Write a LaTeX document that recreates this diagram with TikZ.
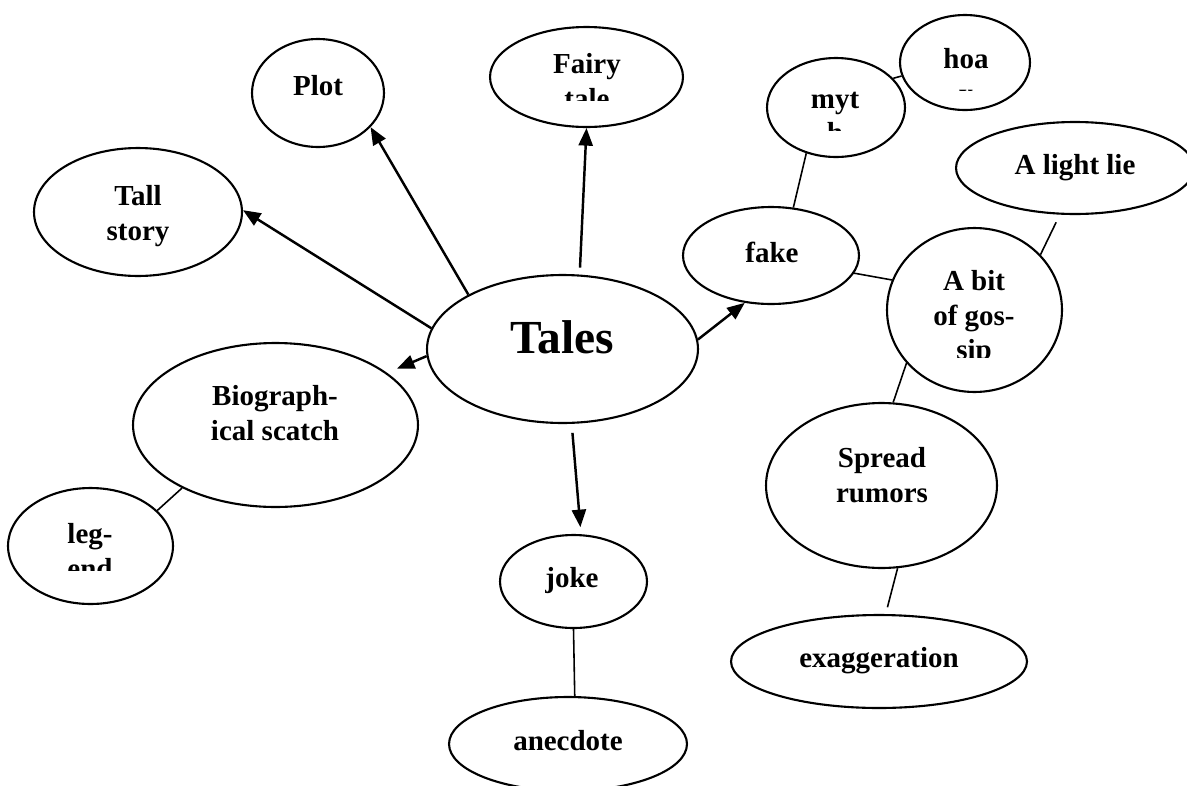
\documentclass[tikz,border=0pt]{standalone}
\usepackage{fontspec}
\setmainfont{Liberation Serif}
\usetikzlibrary{shapes.geometric,arrows.meta}

\begin{document}
\begin{tikzpicture}[x=0.02cm,y=-0.02cm,
    bub/.style={ellipse, draw, line width=1.2pt, inner sep=0pt},
    lbl/.style={font=\fontsize{16.5}{19.5}\selectfont\bfseries, inner sep=0pt, align=center},
    arr/.style={-{Triangle[length=10pt,width=8pt]}, line width=1.4pt},
    lnk/.style={line width=0.9pt}]

\useasboundingbox (0,0) rectangle (1187,785);

% bubbles
\node[bub, minimum width=5.42cm, minimum height=2.96cm] (tales)  at (562.5,349) {};
\node[bub, minimum width=2.64cm, minimum height=2.16cm] (plot)   at (318,93) {};
\node[bub, minimum width=3.86cm, minimum height=2.0cm]  (fairy)  at (586.5,77) {};
\node[bub, minimum width=2.76cm, minimum height=1.98cm] (myth)   at (836,107.5) {};
\node[bub, minimum width=2.6cm,  minimum height=1.9cm]  (hoax)   at (965,62.5) {};
\node[bub, minimum width=4.76cm, minimum height=1.84cm] (lie)    at (1075,168) {};
\node[bub, minimum width=4.16cm, minimum height=2.56cm] (tall)   at (138,212) {};
\node[bub, minimum width=3.52cm, minimum height=1.94cm] (fake)   at (771,255.5) {};
\node[bub, minimum width=3.5cm,  minimum height=3.28cm] (gossip) at (974.5,310) {};
\node[bub, minimum width=5.7cm,  minimum height=3.28cm] (bio)    at (275.5,425) {};
\node[bub, minimum width=3.3cm,  minimum height=2.32cm] (legend) at (90.5,546) {};
\node[bub, minimum width=4.62cm, minimum height=3.3cm]  (spread) at (881.5,485.5) {};
\node[bub, minimum width=5.92cm, minimum height=1.86cm] (exag)   at (879,661.5) {};
\node[bub, minimum width=2.94cm, minimum height=1.86cm] (joke)   at (573.5,581.5) {};
\node[bub, minimum width=4.76cm, minimum height=1.88cm] (anec)   at (568,744) {};

% texts
\node[lbl, font=\fontsize{27}{30}\selectfont\bfseries, anchor=base] (t-tales) at (562.5,353) {Tales};
\node[lbl, anchor=base] (t-plot) at (318,95) {Plot};
\node[lbl, anchor=base] (t-lie) at (1075,174) {A light lie};
\node[lbl, anchor=base] (t-fake) at (772,262) {fake};
\node[lbl, anchor=base] (t-exag) at (879,667) {exaggeration};
\node[lbl, anchor=base] (t-joke) at (572,587) {joke};
\node[lbl, anchor=base] (t-anec) at (568,750) {anecdote};
\node[lbl, anchor=north] (t-tall) at (138,185.5) {Tall\\story};
\node[lbl, anchor=north] (t-bio) at (275,385.5) {Biograph-\\ical scatch};
\node[lbl, anchor=north] (t-spread) at (882,447.5) {Spread\\rumors};
\begin{scope}
  \clip (480,20) rectangle (700,100);
  \node[lbl, anchor=north] (t-fairy) at (587,53.5) {Fairy\\tale};
\end{scope}
\begin{scope}
  \clip (760,50) rectangle (910,130);
  \node[lbl, anchor=north] (t-myth) at (835,92) {myt\\h};
\end{scope}
\begin{scope}
  \clip (900,10) rectangle (1030,90.5);
  \node[lbl, anchor=north] (t-hoax) at (966,48.5) {hoa\\x};
\end{scope}
\begin{scope}
  \clip (0,480) rectangle (180,570);
  \node[lbl, anchor=north] (t-legend) at (90,523.5) {leg-\\end};
\end{scope}
\begin{scope}
  \clip (880,225) rectangle (1065,357);
  \node[lbl, anchor=north] (t-gossip) at (974,270.5) {A bit\\of gos-\\sip};
\end{scope}

% arrows from the centre
\draw[arr] (tales.150) -- (plot.327);
\draw[arr, shorten <=0.14cm] (tales.77) -- (fairy.south);
\draw[arr] (tales.171) -- (tall.1);
\draw[arr, shorten >=0.21cm] (tales.183) -- (bio.25);
\draw[arr] (tales.4) -- (fake.241);
\draw[arr, shorten <=0.18cm, shorten >=0.14cm] (tales.277) -- (joke.81);

% plain links
\draw[lnk] (fake.65) -- (myth.237);
\draw[lnk] (myth.27) -- (hoax.192);
\draw[lnk] (fake.348) -- (gossip.160);
\draw[lnk, shorten >=0.17cm] (gossip.40) -- (lie.252);
\draw[lnk] (gossip.218) -- (spread.82);
\draw[lnk, shorten >=0.14cm] (spread.281) -- (exag.82);
\draw[lnk] (joke.south) -- (anec.82);
\draw[lnk] (bio.214) -- (legend.28);

\end{tikzpicture}
\end{document}
